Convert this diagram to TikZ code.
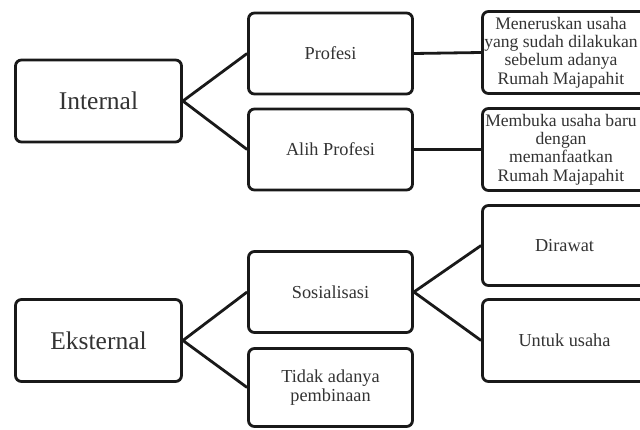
\documentclass[tikz,border=0pt]{standalone}
\usepackage{fontspec}
\setmainfont{Liberation Serif}
\begin{document}
\begin{tikzpicture}[x=1pt,y=-1pt,
  box/.style={draw=black!90, line width=2.8pt, rounded corners=6pt, fill=white,
    align=center, inner sep=0pt, text=black!80},
  bigbox/.style={box, minimum width=166pt, minimum height=82pt, font=\fontsize{25.5}{27}\selectfont},
  midbox/.style={box, minimum width=164pt, minimum height=81pt, font=\fontsize{18.3}{18.5}\selectfont},
  rbox/.style={box, minimum width=164pt, minimum height=82pt, font=\fontsize{18.3}{18.5}\selectfont},
  rtext/.style={align=center, inner sep=0pt, text=black!80, font=\fontsize{17.6}{18.3}\selectfont},
  link/.style={draw=black!90, line width=2.8pt}
]
\useasboundingbox (0,0) rectangle (640,430);
\clip (0,0) rectangle (640,430);
\node[bigbox] (int) at (98.5,101) {Internal};
\node[bigbox] (eks) at (98.5,340.5) {Eksternal};
\node[midbox] (prof) at (330.5,53.5) {Profesi};
\node[midbox] (alih) at (330.5,149.5) {Alih Profesi};
\node[midbox] (sos) at (330.5,292) {Sosialisasi};
\node[midbox, minimum height=78pt] (tidak) at (330.5,387.5) {Tidak adanya\\pembinaan};
\node[rbox] (r1) at (564.5,52.5) {};
\node[rtext] (r1t) at (561,52.5) {Meneruskan usaha\\yang sudah dilakukan\\sebelum adanya\\Rumah Majapahit};
\node[rbox] (r2) at (564.5,149.5) {};
\node[rtext] (r2t) at (561,149.5) {Membuka usaha baru\\dengan\\memanfaatkan\\Rumah Majapahit};
\node[rbox, minimum height=80pt] (dir) at (564.5,245.5) {Dirawat};
\node[rbox] (unt) at (564.5,340.5) {Untuk usaha};
\draw[link] (prof.west) -- (int.east) -- (alih.west);
\draw[link] (sos.west) -- (eks.east) -- (tidak.west);
\draw[link] (prof.east) -- (r1.west);
\draw[link] (alih.east) -- (r2.west);
\draw[link] (dir.west) -- (sos.east) -- (unt.west);
\end{tikzpicture}
\end{document}
